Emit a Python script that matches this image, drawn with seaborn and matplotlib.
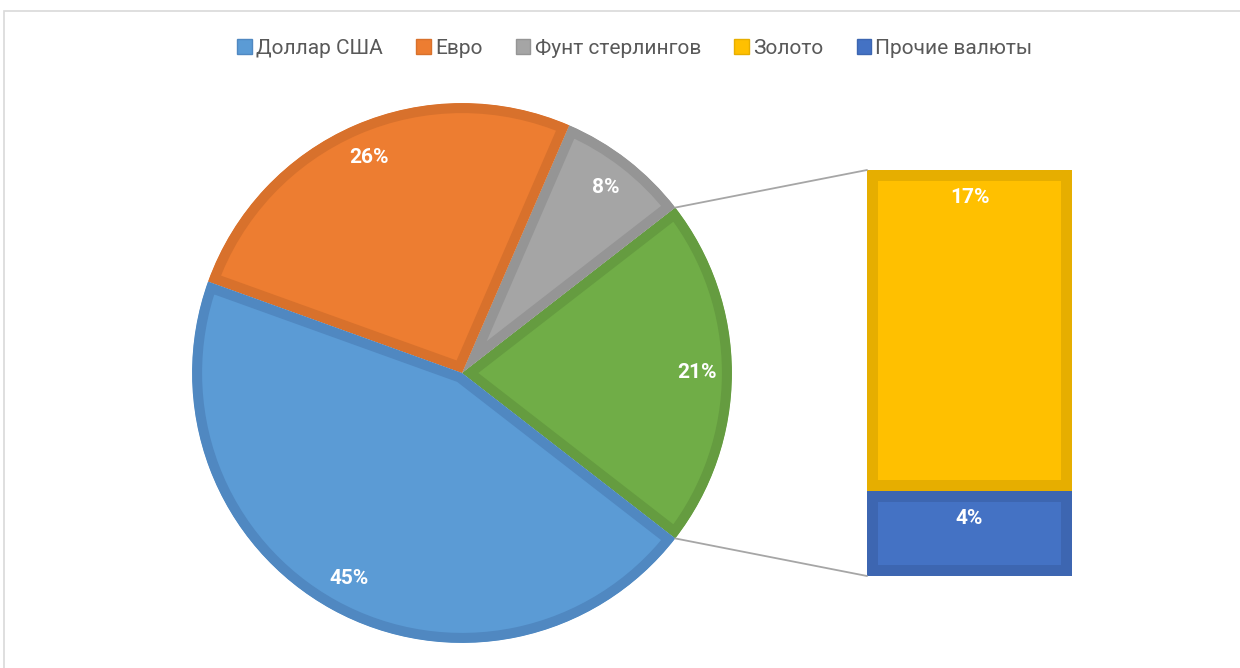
import numpy as np
import matplotlib
matplotlib.use("Agg")
import matplotlib.pyplot as plt
import seaborn as sns
from matplotlib.patches import Patch, Rectangle, ConnectionPatch

# --- data (shares of reserves, %) ---
currencies = ['Доллар США', 'Евро', 'Фунт стерлингов', 'Золото', 'Прочие валюты']
usd = 45
eur = 26
gbp = 8
gold = 16.6
other = 4.4

fills = {'Доллар США': '#5B9BD5', 'Евро': '#ED7D31', 'Фунт стерлингов': '#A5A5A5',
         'Золото': '#FFC000', 'Прочие валюты': '#4472C4', 'group': '#70AD47'}
edges = {'Доллар США': '#5088C1', 'Евро': '#D8712C', 'Фунт стерлингов': '#959595',
         'Золото': '#E6AE00', 'Прочие валюты': '#3D66B1', 'group': '#659C40'}

sns.set_theme(style="white")
plt.rcParams['font.family'] = ['Roboto', 'DejaVu Sans']

W, H = 1240, 668
fig = plt.figure(figsize=(W / 100, H / 100), dpi=100)


def px_axes(x0, y0, x1, y1):
    return fig.add_axes([x0 / W, 1 - y1 / H, (x1 - x0) / W, (y1 - y0) / H])


# chart frame
fig.patches.append(Rectangle((4 / W, -0.1), 1.2, 1.1 - 11 / H, transform=fig.transFigure,
                             fill=False, edgecolor='#D9D9D9', lw=1.2))

# --- pie: the gold + other part is grouped into one green slice ---
group = gold + other
pie_keys = ['group', 'Фунт стерлингов', 'Евро', 'Доллар США']
pie_vals = [group, gbp, eur, usd]
start = -group / 100 * 360 / 2

ax = px_axes(184, 95, 740, 651)
wedges, _, pct = ax.pie(pie_vals, colors=[fills[k] for k in pie_keys], startangle=start,
                        counterclock=True, radius=1, autopct='%.0f%%', pctdistance=0.87,
                        wedgeprops=dict(linewidth=14.4),
                        textprops=dict(color='white', fontsize=15, fontweight='bold'))
for w, k in zip(wedges, pie_keys):
    # border drawn inside the slice only
    w.set_edgecolor(edges[k])
    w.set_clip_on(True)
    w.set_clip_path(w)
ax.set_xlim(-1.03, 1.03)
ax.set_ylim(-1.03, 1.03)
ax.axis('off')

# --- stacked bar with the grouped part ---
ax2 = px_axes(867, 170, 1072, 576)
bar_keys = ['Прочие валюты', 'Золото']
bar_vals = [other, gold]
bottom = 0
for k, v in zip(bar_keys, bar_vals):
    b = ax2.bar(0, v, bottom=bottom, width=1, color=fills[k], edgecolor=edges[k], linewidth=15.8)[0]
    b.set_clip_path(b)
    ax2.annotate(f'{v:.0f}%', xy=(0, bottom + v), xytext=(0, -19.5), textcoords='offset points',
                 ha='center', va='center', color='white', fontsize=15, fontweight='bold')
    bottom += v
ax2.set_xlim(-0.5, 0.5)
ax2.set_ylim(0, group)
ax2.axis('off')

# connector lines
th = np.deg2rad(start)
for sign, ybar in [(1, group), (-1, 0)]:
    con = ConnectionPatch(xyA=(np.cos(th), -sign * np.sin(th)), coordsA=ax.transData,
                          xyB=(-0.5, ybar), coordsB=ax2.transData, color='#A6A6A6', lw=1.3)
    fig.add_artist(con)

# legend
handles = [Patch(facecolor=fills[c], edgecolor=edges[c], lw=1) for c in currencies]
fig.legend(handles, currencies, loc='center', bbox_to_anchor=(635 / W, 1 - 48 / H), ncol=5,
           frameon=False, handlelength=0.7, handleheight=0.7, handletextpad=0.2,
           columnspacing=1.6, fontsize=15, labelcolor='#595959')

fig.savefig('out.png', dpi=100)
